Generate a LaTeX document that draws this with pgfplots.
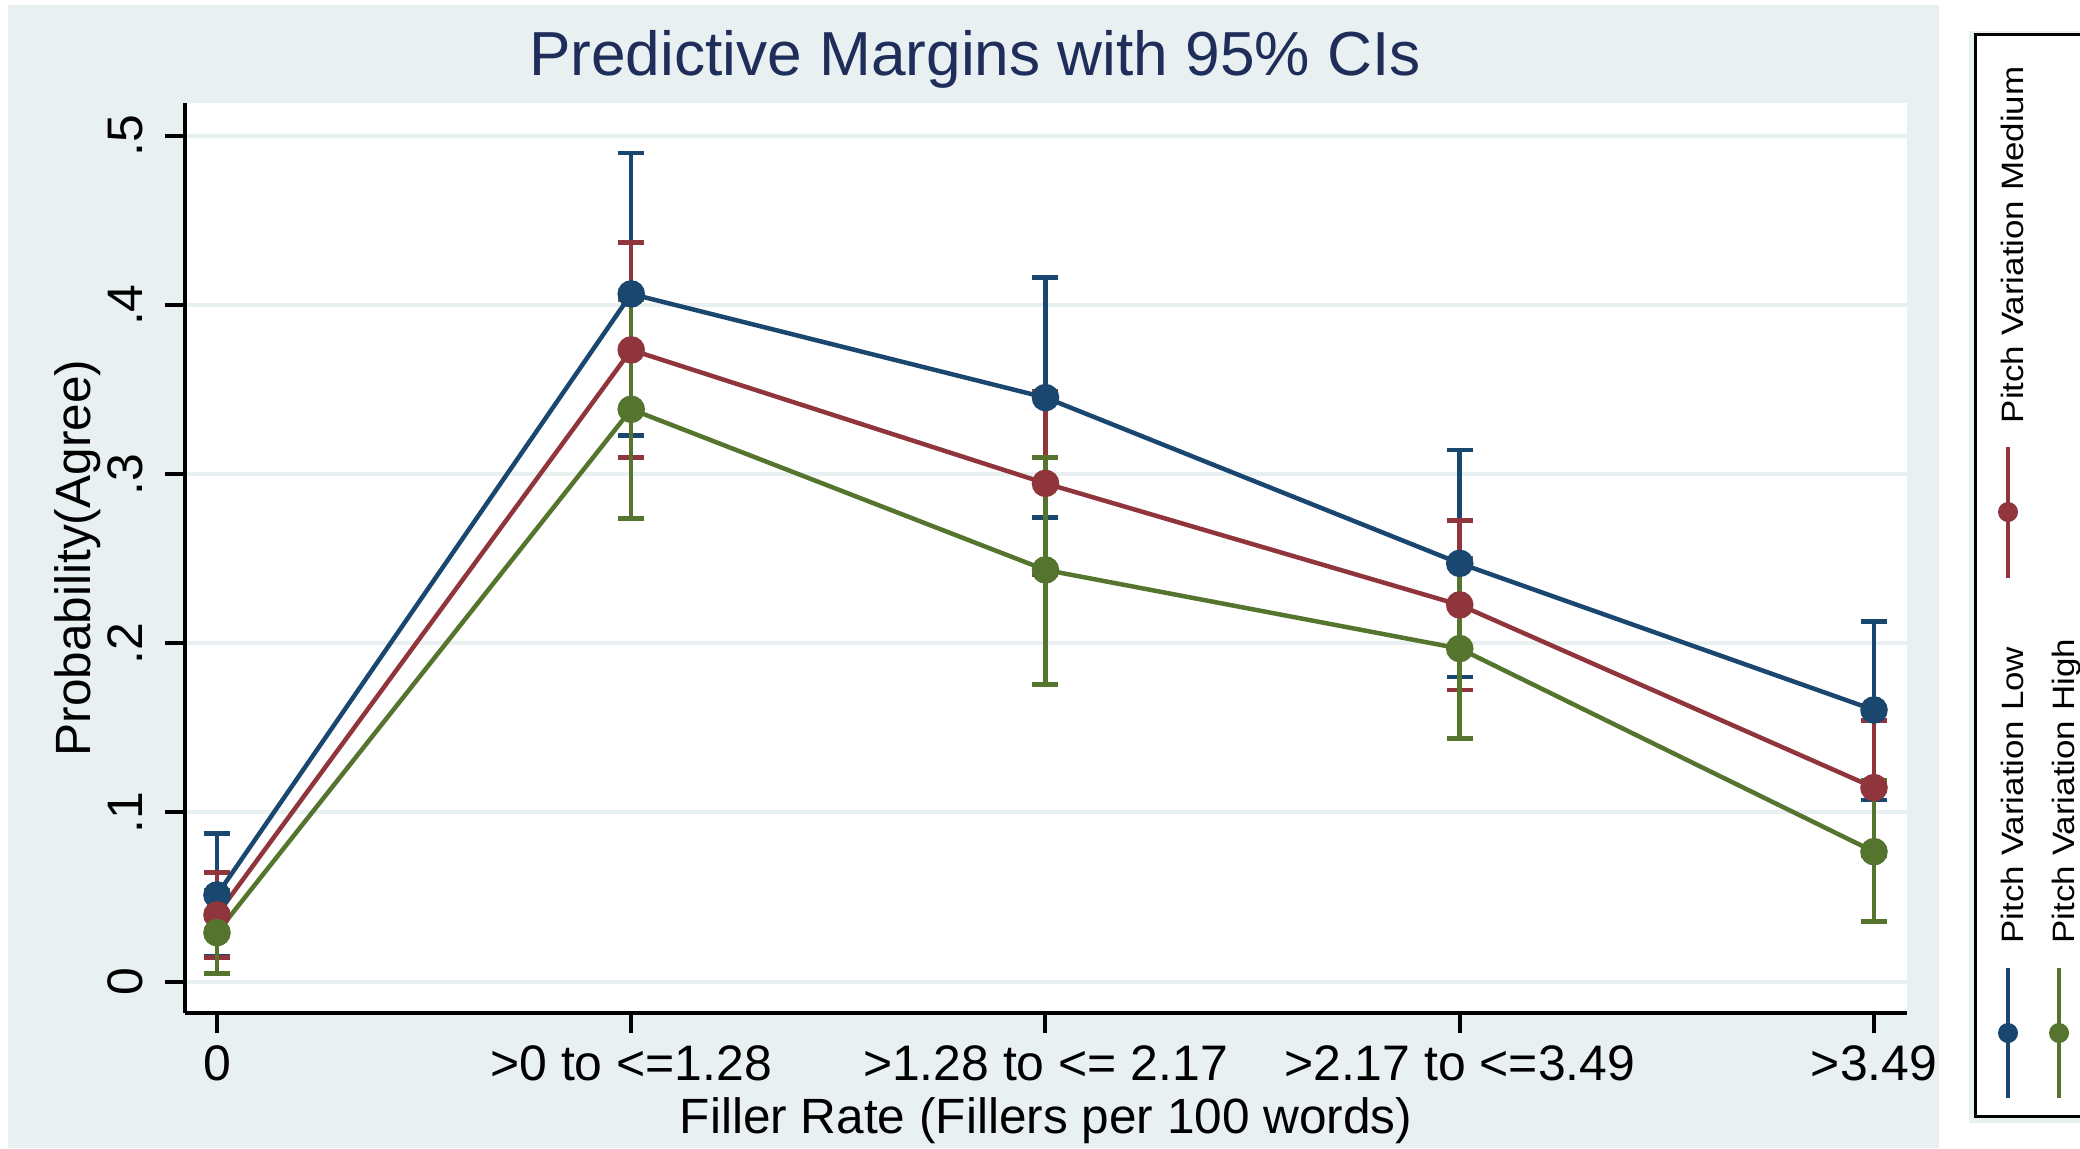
\documentclass[border=0pt]{standalone}
\usepackage{fontspec}
\setmainfont{Liberation Sans}
\usepackage{pgfplots}
\pgfplotsset{compat=1.18}
\usepackage{pgfplotstable}
\definecolor{sblue}{RGB}{26,71,111}
\definecolor{sred}{RGB}{144,53,59}
\definecolor{sgreen}{RGB}{85,117,47}
\definecolor{sbg}{RGB}{232,240,241}
\definecolor{stitle}{RGB}{30,45,90}

\pgfplotstableread{
x y lo hi
0 0.0512 0.0147 0.0877
1 0.4066 0.3230 0.4898
2 0.3453 0.2745 0.4162
3 0.2473 0.1801 0.3143
4 0.1606 0.1074 0.2128
}\lowdata
\pgfplotstableread{
x y lo hi
0 0.0394 0.0141 0.0644
1 0.3735 0.3100 0.4371
2 0.2946 0.2404 0.3488
3 0.2227 0.1724 0.2725
4 0.1147 0.0745 0.1543
}\meddata
\pgfplotstableread{
x y lo hi
0 0.0289 0.0047 0.0538
1 0.3384 0.2737 0.4031
2 0.2434 0.1758 0.3100
3 0.1969 0.1436 0.2503
4 0.0768 0.0354 0.1188
}\highdata

\newcommand{\legtext}[1]{\scalebox{1.13}[1]{#1}}

\begin{document}
\begin{tikzpicture}
\clip (0,0) rectangle (208mm,-114.8mm);
\fill[white] (0,0) rectangle (208mm,-114.8mm);
\fill[sbg] (0.8mm,-0.5mm) rectangle (193.9mm,-114.8mm);
\fill[sbg] (196.9mm,-3.1mm) rectangle (212mm,-112.3mm);
% legend box (drawn by hand, rotated as in the reference)
\draw[black, line width=0.3mm, fill=white] (197.5mm,-3.4mm) rectangle (215mm,-111.6mm);
\draw[sblue, line width=0.45mm] (200.8mm,-96.8mm) -- (200.8mm,-109.8mm);
\fill[sblue] (200.8mm,-103.3mm) circle (1mm);
\node[rotate=90, anchor=base west, inner sep=0pt, font=\fontsize{8.8}{10}\selectfont] at (202.3mm,-94.4mm) {\legtext{Pitch Variation Low}};
\draw[sred, line width=0.45mm] (200.8mm,-44.7mm) -- (200.8mm,-57.8mm);
\fill[sred] (200.8mm,-51.2mm) circle (1mm);
\node[rotate=90, anchor=base west, inner sep=0pt, font=\fontsize{8.8}{10}\selectfont] at (202.3mm,-42.4mm) {\legtext{Pitch Variation Medium}};
\draw[sgreen, line width=0.45mm] (205.9mm,-96.8mm) -- (205.9mm,-109.8mm);
\fill[sgreen] (205.9mm,-103.3mm) circle (1mm);
\node[rotate=90, anchor=base west, inner sep=0pt, font=\fontsize{8.8}{10}\selectfont] at (207.4mm,-94.4mm) {\legtext{Pitch Variation High}};
\begin{axis}[
  at={(18.5mm,-101.3mm)}, anchor=south west,
  scale only axis, width=172.2mm, height=91mm,
  xmin=-0.0772, xmax=4.0797, ymin=-0.0186, ymax=0.5195,
  axis background/.style={fill=white},
  axis x line=bottom, axis y line=left,
  axis line style={-, line width=0.45mm, black},
  x axis line style={-}, y axis line style={-},
  tick align=outside, major tick length=2mm,
  tick style={line width=0.4mm, black},
  xtick={0,1,2,3,4},
  xticklabels={0, {>0 to <=1.28}, {>1.28 to <= 2.17}, {>2.17 to <=3.49}, {>3.49}},
  ytick={0,0.1,0.2,0.3,0.4,0.5},
  yticklabels={0,.1,.2,.3,.4,.5},
  ymajorgrids, grid style={sbg, line width=0.4mm},
  tick label style={font=\fontsize{14.2}{17}\selectfont},
  yticklabel style={rotate=90, anchor=south},
  yticklabel shift=1mm,
  xlabel={Filler Rate (Fillers per 100 words)},
  ylabel={Probability(Agree)},
  xlabel shift=-0.7mm,
  ylabel shift=-1.8mm,
  label style={font=\fontsize{14.1}{17}\selectfont},
  title={Predictive Margins with 95\% CIs},
  title style={font=\fontsize{17.7}{21}\selectfont, color=stitle, at={(axis description cs:0.4588,1.007)}, anchor=base},
  clip=false,
]
\addplot[forget plot, draw=none, mark=none, error bars/.cd, y dir=both, y explicit,
  error bar style={draw=sblue, line width=0.45mm}, error mark options={rotate=90, draw=sblue, line width=0.45mm, mark size=1.3mm}]
  table[x=x, y=y, y error plus expr=\thisrow{hi}-\thisrow{y}, y error minus expr=\thisrow{y}-\thisrow{lo}] {\lowdata};
\addplot[forget plot, draw=none, mark=none, error bars/.cd, y dir=both, y explicit,
  error bar style={draw=sred, line width=0.45mm}, error mark options={rotate=90, draw=sred, line width=0.45mm, mark size=1.3mm}]
  table[x=x, y=y, y error plus expr=\thisrow{hi}-\thisrow{y}, y error minus expr=\thisrow{y}-\thisrow{lo}] {\meddata};
\addplot[forget plot, draw=none, mark=none, error bars/.cd, y dir=both, y explicit,
  error bar style={draw=sgreen, line width=0.45mm}, error mark options={rotate=90, draw=sgreen, line width=0.45mm, mark size=1.3mm}]
  table[x=x, y=y, y error plus expr=\thisrow{hi}-\thisrow{y}, y error minus expr=\thisrow{y}-\thisrow{lo}] {\highdata};
\addplot[sblue, line width=0.45mm, mark=*, mark size=1.15mm, mark options={solid, fill=sblue, draw=sblue}] table[x=x, y=y] {\lowdata};
\addplot[sred, line width=0.45mm, mark=*, mark size=1.15mm, mark options={solid, fill=sred, draw=sred}] table[x=x, y=y] {\meddata};
\addplot[sgreen, line width=0.45mm, mark=*, mark size=1.15mm, mark options={solid, fill=sgreen, draw=sgreen}] table[x=x, y=y] {\highdata};
\end{axis}
\end{tikzpicture}
\end{document}
